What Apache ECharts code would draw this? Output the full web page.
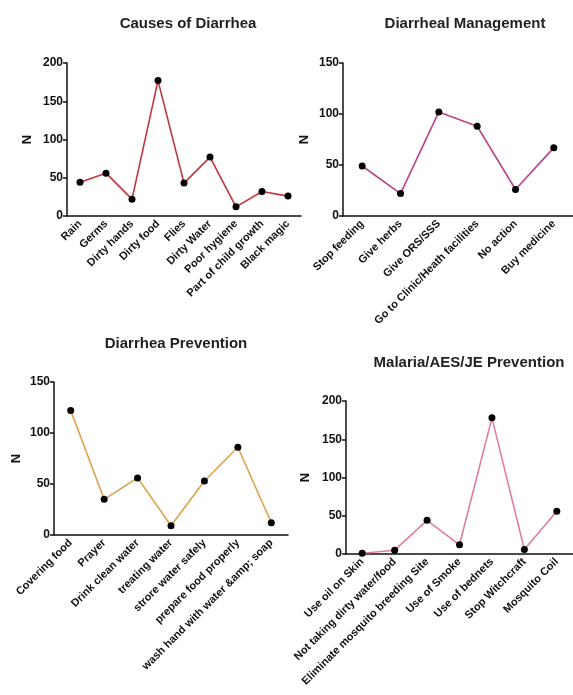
<!DOCTYPE html>
<html>
<head>
<meta charset="utf-8">
<script src="https://cdn.jsdelivr.net/npm/echarts@6/dist/echarts.min.js"></script>
<style>html,body{margin:0;padding:0;background:#fff}#c{width:573px;height:695px}</style>
</head>
<body>
<div id="c"></div>
<script>
const causesCats = ['Rain','Germs','Dirty hands','Dirty food','Flies','Dirty Water','Poor hygiene','Part of child growth','Black magic'];
const causesVals = [44,56,22,177,43,77,12,32,26];
const mgmtCats = ['Stop feeding','Give herbs','Give ORS/SSS','Go to Clinic/Heath facilities','No action','Buy medicine'];
const mgmtVals = [49,22,102,88,26,67];
const prevCats = ['Covering food','Prayer','Drink clean water','treating water','strore water safely','prepare food properly','wash hand with water &amp; soap'];
const prevVals = [122,35,56,9,53,86,12];
const malCats = ['Use oil on Skin','Not taking dirty water/food','Eliminate mosquito breeding Site','Use of Smoke','Use of bednets','Stop Witchcraft','Mosquito Coil'];
const malVals = [1,5,44,12,178,6,56];
const titles = ['Causes of Diarrhea','Diarrheal Management','Diarrhea Prevention','Malaria/AES/JE Prevention'];
const yMax = [200,150,150,200];
const lineColors = ['#c0363a','#b8448a','#e0a04a','#e07ca4'];

const grids = [
  {left:67, top:63, width:234, height:153},
  {left:343, top:63, width:233, height:153},
  {left:54, top:382, width:234, height:153},
  {left:346, top:401, width:234, height:153}
];
const titlePos = [[183,11],[460,11],[171,331],[464,350]];
const nameGaps = [33,32,31,34];
const catsAll = [causesCats, mgmtCats, prevCats, malCats];
const valsAll = [causesVals, mgmtVals, prevVals, malVals];
const FONT = '"Liberation Sans", Arial, sans-serif';

const option = {
  animation:false,
  title: titles.map((t,i)=>({text:t,left:titlePos[i][0],top:titlePos[i][1],textAlign:'center',
    textStyle:{fontFamily:FONT,fontSize:15,fontWeight:'bold',color:'#222'}})),
  grid: grids,
  xAxis: catsAll.map((c,i)=>({type:'category',gridIndex:i,data:c,boundaryGap:true,
    axisLine:{lineStyle:{color:'#111',width:1.5}},
    axisTick:{alignWithLabel:true,length:4,lineStyle:{color:'#111',width:1.5}},
    axisLabel:{rotate:45,interval:0,margin:6,fontFamily:FONT,fontSize:11,fontWeight:'bold',color:'#111'}})),
  yAxis: yMax.map((m,i)=>({type:'value',gridIndex:i,min:0,max:m,interval:50,
    name:'N',nameLocation:'middle',nameGap:nameGaps[i],
    nameTextStyle:{fontFamily:FONT,fontSize:13,fontWeight:'bold',color:'#111'},
    axisLine:{show:true,lineStyle:{color:'#111',width:1.5}},
    axisTick:{show:true,length:4,lineStyle:{color:'#111',width:1.5}},
    splitLine:{show:false},
    axisLabel:{margin:4,fontFamily:FONT,fontSize:12,fontWeight:'bold',color:'#111'}})),
  series: valsAll.map((v,i)=>({type:'line',xAxisIndex:i,yAxisIndex:i,data:v,
    symbol:'circle',symbolSize:7,itemStyle:{color:'#000'},
    lineStyle:{color:lineColors[i],width:1.6}}))
};
echarts.init(document.getElementById('c')).setOption(option);
</script>
</body>
</html>
